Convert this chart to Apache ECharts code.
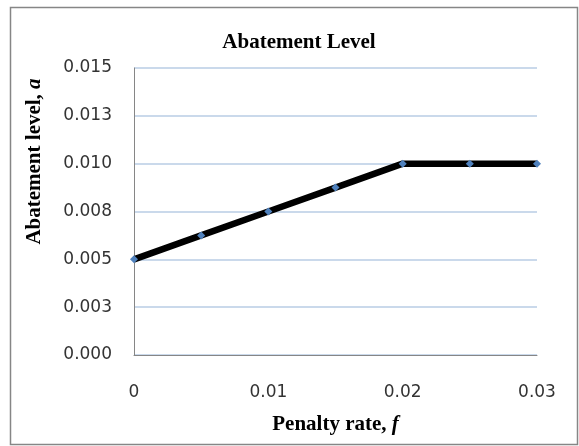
<!DOCTYPE html>
<html>
<head>
<meta charset="utf-8">
<script src="https://cdn.jsdelivr.net/npm/echarts@6/dist/echarts.min.js"></script>
<style>html,body{margin:0;padding:0;background:#fff;}#c{width:579px;height:446px;}</style>
</head>
<body>
<div id="c"></div>
<script>
var penaltyRate = [0, 0.005, 0.01, 0.015, 0.02, 0.025, 0.03];
var abatement = [0.005, 0.00625, 0.0075, 0.00875, 0.01, 0.01, 0.01];
var yTickLabels = ['0.000', '0.003', '0.005', '0.008', '0.010', '0.013', '0.015'];
var xTickLabels = ['0', '0.01', '0.02', '0.03'];

var chart = echarts.init(document.getElementById('c'), null, {renderer: 'canvas'});
var serif = '"Liberation Serif", "Times New Roman", serif';
var sans = '"DejaVu Sans", Verdana, sans-serif';
chart.setOption({
  animation: false,
  backgroundColor: '#fff',
  title: {
    text: 'Abatement Level',
    left: 294, top: 27, textAlign: 'center',
    textStyle: {fontFamily: serif, fontWeight: 'bold', fontSize: 21, color: '#000'}
  },
  graphic: [{
    type: 'rect', shape: {x: 10.5, y: 7.5, width: 567, height: 437},
    style: {fill: null, stroke: '#868686', lineWidth: 1.5}, silent: true
  }],
  grid: {left: 134, right: 42, top: 68, bottom: 91},
  xAxis: {
    type: 'value', min: 0, max: 0.03, interval: 0.01,
    name: 'Penalty rate, {i|f}', nameLocation: 'middle', nameGap: 59,
    nameTextStyle: {fontFamily: serif, fontWeight: 'bold', fontSize: 21, color: '#000',
      rich: {i: {fontFamily: serif, fontStyle: 'italic', fontSize: 21, color: '#000'}}},
    axisLine: {show: true, lineStyle: {color: '#868686', width: 1}},
    axisTick: {show: false},
    splitLine: {show: false},
    axisLabel: {margin: 29, fontFamily: sans, fontSize: 17, color: '#333',
      formatter: function (v) { return xTickLabels[Math.round(v / 0.01)]; }}
  },
  yAxis: {
    type: 'value', min: 0, max: 0.015, interval: 0.0025,
    name: 'Abatement level, {i|a}', nameLocation: 'middle', nameGap: 89,
    nameTextStyle: {fontFamily: serif, fontWeight: 'bold', fontSize: 21, color: '#000',
      padding: [0, 0, 0, 100],
      rich: {i: {fontFamily: serif, fontStyle: 'italic', fontSize: 21, color: '#000'}}},
    axisLine: {show: true, lineStyle: {color: '#868686', width: 1}},
    axisTick: {show: false},
    splitLine: {show: true, lineStyle: {color: '#b9cde5', width: 1.5}},
    axisLabel: {margin: 22, fontFamily: sans, fontSize: 17, color: '#333',
      formatter: function (v) { return yTickLabels[Math.round(v / 0.0025)]; }}
  },
  series: [{
    type: 'line',
    data: penaltyRate.map(function (x, i) { return [x, abatement[i]]; }),
    lineStyle: {color: '#000', width: 6.5},
    symbol: 'diamond', symbolSize: 8,
    itemStyle: {color: '#4f81bd', borderWidth: 0},
    z: 3
  }]
});
</script>
</body>
</html>
